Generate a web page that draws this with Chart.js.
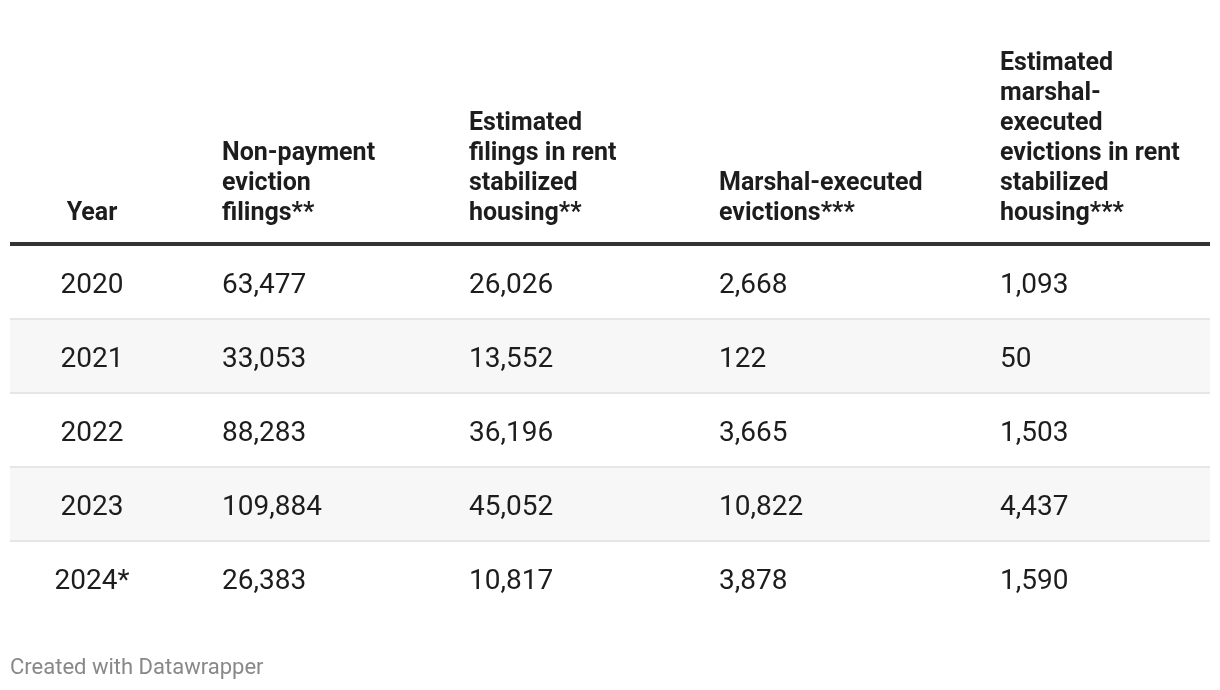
<!DOCTYPE html>
<html>
<head>
<meta charset="utf-8">
<script src="https://cdn.jsdelivr.net/npm/chart.js"></script>
<style>
  html, body { margin: 0; padding: 0; background: #fff; }
  #wrap { width: 1220px; height: 690px; position: relative; }
</style>
</head>
<body>
<div id="wrap"><canvas id="evictionTable"></canvas></div>
<script>
// ── Data ────────────────────────────────────────────────────────────────
const YEARS = ['2020', '2021', '2022', '2023', '2024*'];
const NONPAYMENT_FILINGS = [63477, 33053, 88283, 109884, 26383];
const RS_FILINGS = [26026, 13552, 36196, 45052, 10817];
const MARSHAL_EVICTIONS = [2668, 122, 3665, 10822, 3878];
const RS_MARSHAL_EVICTIONS = [1093, 50, 1503, 4437, 1590];

const HEADERS = [
  ['Year'],
  ['Non-payment', 'eviction', 'filings**'],
  ['Estimated', 'filings in rent', 'stabilized', 'housing**'],
  ['Marshal-executed', 'evictions***'],
  ['Estimated', 'marshal-', 'executed', 'evictions in rent', 'stabilized', 'housing***']
];
const FOOTER = 'Created with Datawrapper';

// ── Layout (x in table units, 0..1200 across the table) ────────────────
const TABLE_WIDTH = 1200;
const COL_X = [82, 212, 459, 709, 990];
const COL_ALIGN = ['center', 'left', 'left', 'left', 'left'];
const FONT = 'Roboto, "Noto Sans", sans-serif';

const columns = [
  YEARS,
  NONPAYMENT_FILINGS.map(v => v.toLocaleString('en-US')),
  RS_FILINGS.map(v => v.toLocaleString('en-US')),
  MARSHAL_EVICTIONS.map(v => v.toLocaleString('en-US')),
  RS_MARSHAL_EVICTIONS.map(v => v.toLocaleString('en-US'))
];

const tablePlugin = {
  id: 'tableCells',
  afterDatasetsDraw(chart) {
    const { ctx, chartArea, scales: { x, y } } = chart;
    ctx.save();

    // row separators between bands
    ctx.strokeStyle = '#e6e6e6';
    ctx.lineWidth = 2;
    for (let i = 0; i < YEARS.length - 1; i++) {
      const yy = (y.getPixelForValue(i) + y.getPixelForValue(i + 1)) / 2 - 1;
      ctx.beginPath();
      ctx.moveTo(x.getPixelForValue(0), yy);
      ctx.lineTo(x.getPixelForValue(TABLE_WIDTH), yy);
      ctx.stroke();
    }

    // header rule
    ctx.strokeStyle = '#333';
    ctx.lineWidth = 4;
    ctx.beginPath();
    ctx.moveTo(x.getPixelForValue(0), chartArea.top - 2);
    ctx.lineTo(x.getPixelForValue(TABLE_WIDTH), chartArea.top - 2);
    ctx.stroke();

    // header text, bottom aligned
    ctx.fillStyle = '#1d1d1d';
    ctx.font = `bold 25px ${FONT}`;
    ctx.textBaseline = 'alphabetic';
    HEADERS.forEach((lines, c) => {
      ctx.textAlign = COL_ALIGN[c];
      const px = x.getPixelForValue(COL_X[c]);
      const lastBase = chartArea.top - 26;
      lines.forEach((line, k) => {
        ctx.fillText(line, px, lastBase - (lines.length - 1 - k) * 30);
      });
    });

    // body cells
    ctx.font = `28px ${FONT}`;
    ctx.textBaseline = 'middle';
    columns.forEach((col, c) => {
      ctx.textAlign = COL_ALIGN[c];
      const px = x.getPixelForValue(COL_X[c]);
      col.forEach((txt, r) => {
        ctx.fillText(txt, px, y.getPixelForValue(r) + 2.5);
      });
    });

    ctx.restore();
  }
};

new Chart(document.getElementById('evictionTable'), {
  type: 'bar',
  data: {
    labels: YEARS,
    datasets: [{
      label: 'rows',
      data: YEARS.map(() => [0, TABLE_WIDTH]),
      backgroundColor: YEARS.map((_, i) => i % 2 ? '#f7f7f7' : 'rgba(0,0,0,0)'),
      borderWidth: 0,
      barPercentage: 1,
      categoryPercentage: 1
    }]
  },
  options: {
    indexAxis: 'y',
    responsive: true,
    maintainAspectRatio: false,
    animation: false,
    layout: { padding: { top: 246, left: 10, right: 10, bottom: 0 } },
    plugins: {
      legend: { display: false },
      tooltip: { enabled: false },
      title: {
        display: true,
        text: FOOTER,
        position: 'bottom',
        align: 'start',
        color: '#888',
        font: { family: FONT, size: 22, weight: 'normal', lineHeight: 1.2 },
        padding: { top: 39, bottom: 8.6 }
      }
    },
    scales: {
      x: { type: 'linear', min: 0, max: TABLE_WIDTH, display: false },
      y: { type: 'category', offset: true, display: false }
    }
  },
  plugins: [tablePlugin]
});
</script>
</body>
</html>
